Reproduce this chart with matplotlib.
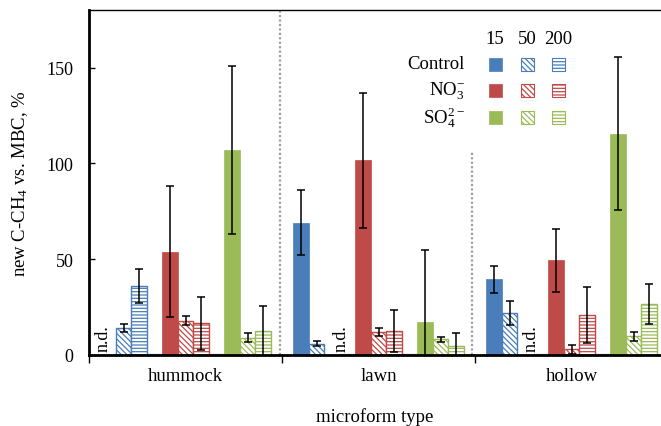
import numpy as np
import matplotlib
matplotlib.use('Agg')
import matplotlib.pyplot as plt
from matplotlib.patches import Rectangle

plt.rcParams['font.family'] = ['Liberation Serif', 'DejaVu Serif']
plt.rcParams['mathtext.default'] = 'regular'
plt.rcParams['hatch.linewidth'] = 0.9

groups = ['hummock', 'lawn', 'hollow']
treatments = ['Control', 'NO$_3^{-}$', 'SO$_4^{2-}$']
doses = ['15', '50', '200']
colors = ['#4A7EBB', '#BE4B48', '#9BBB59']
hatches = [None, '\\\\\\\\\\\\', '-----']

# values [group][treatment][dose], nan = n.d.
values = {
    'hummock': [[np.nan, 14, 36], [54, 18, 16.5], [107, 9, 12.5]],
    'lawn':    [[69, 6, np.nan], [101.5, 12, 12.5], [17, 8.2, 4.5]],
    'hollow':  [[39.5, 22, np.nan], [49.5, 3, 21], [115.5, 9.7, 26.5]],
}
errors = {
    'hummock': [[0, 2, 8.7], [34, 2.5, 14], [44, 2.4, 13]],
    'lawn':    [[17, 1.2, 0], [35, 2.3, 11], [38, 1.2, 7]],
    'hollow':  [[7, 6.3, 0], [16.4, 2.3, 14.7], [40, 2.4, 10.4]],
}
nd_offset = {'hummock': -0.025, 'lawn': 0.045, 'hollow': 0.03}

fig = plt.figure(figsize=(6.61, 4.27), dpi=100)
W, H = 661, 427
ax = fig.add_axes([89 / W, (H - 356) / H, (661 - 89) / W, (356 - 11) / H])

slot = 15.5 / 193
for gi, g in enumerate(groups):
    for ti in range(3):
        for di in range(3):
            j = ti * 4 + di
            x = gi + (j - 5) * slot
            v = values[g][ti][di]
            e = errors[g][ti][di]
            if np.isnan(v):
                ax.text(x + nd_offset[g], 2, 'n.d.', rotation=90, ha='center',
                        va='bottom', fontsize=13)
                continue
            c = colors[ti]
            if hatches[di] is None:
                ax.bar(x, v, width=slot, color=c, edgecolor=c, linewidth=0.5, zorder=2)
            else:
                ax.bar(x, v, width=slot, facecolor='white', edgecolor=c,
                       hatch=hatches[di], linewidth=1.0, zorder=2)
            ax.errorbar(x, v, yerr=e, fmt='none', ecolor='black', elinewidth=1.1,
                        capsize=3, capthick=1.1, zorder=3)
    # zero-height spacer lines
    for j in (3, 7):
        x = gi + (j - 5) * slot
        ax.plot([x - slot / 2, x + slot / 2], [0.3, 0.3], color='#9DB7D8', lw=1, zorder=1)

# dotted separators
ax.plot([0.49, 0.49], [0, 180], color='#A0A0A0', ls=(0, (1, 1)), lw=1.6, zorder=1)
ax.plot([1.485, 1.485], [0, 106], color='#A0A0A0', ls=(0, (1, 1)), lw=1.6, zorder=1)

ax.set_xlim(-0.5, -0.5 + 572 / 193)
ax.set_ylim(0, 180)
ax.set_yticks([0, 50, 100, 150])
ax.tick_params(axis='y', direction='in', length=4, width=1, pad=11, labelsize=13)
ax.set_xticks([-0.5, 0.5, 1.5])
ax.set_xticklabels([])
ax.tick_params(axis='x', direction='out', length=6, width=1)
ax.set_xticks([0, 1, 2], minor=True)
ax.set_xticklabels(groups, minor=True, fontsize=13.5)
ax.tick_params(axis='x', which='minor', length=0, pad=9)

ax.spines['right'].set_visible(False)
ax.spines['left'].set_linewidth(2)
ax.spines['bottom'].set_linewidth(2)
ax.spines['top'].set_linewidth(1)

ax.set_ylabel('new C-CH$_4$ vs. MBC, %', fontsize=13.5, labelpad=12)
ax.set_xlabel('microform type', fontsize=13.5, labelpad=16)

# legend drawn by hand
col_x = [495, 527, 558]
row_y = [65, 91, 118]
for di, d in enumerate(doses):
    fig.text(col_x[di] / W, 1 - 40 / H, d, ha='center', va='center', fontsize=13.5)
for ti, t in enumerate(treatments):
    fig.text(465 / W, 1 - row_y[ti] / H, t, ha='right', va='center', fontsize=13.5)
    for di in range(3):
        x0 = (col_x[di] - 6.5) / W
        y0 = 1 - (row_y[ti] + 6.5) / H
        if hatches[di] is None:
            r = Rectangle((x0, y0), 13 / W, 13 / H, facecolor=colors[ti],
                          edgecolor=colors[ti], lw=0.5, transform=fig.transFigure)
        else:
            r = Rectangle((x0, y0), 13 / W, 13 / H, facecolor='white',
                          edgecolor=colors[ti], hatch=hatches[di], lw=0.8,
                          transform=fig.transFigure)
        fig.add_artist(r)

fig.savefig('out.png', dpi=100)
